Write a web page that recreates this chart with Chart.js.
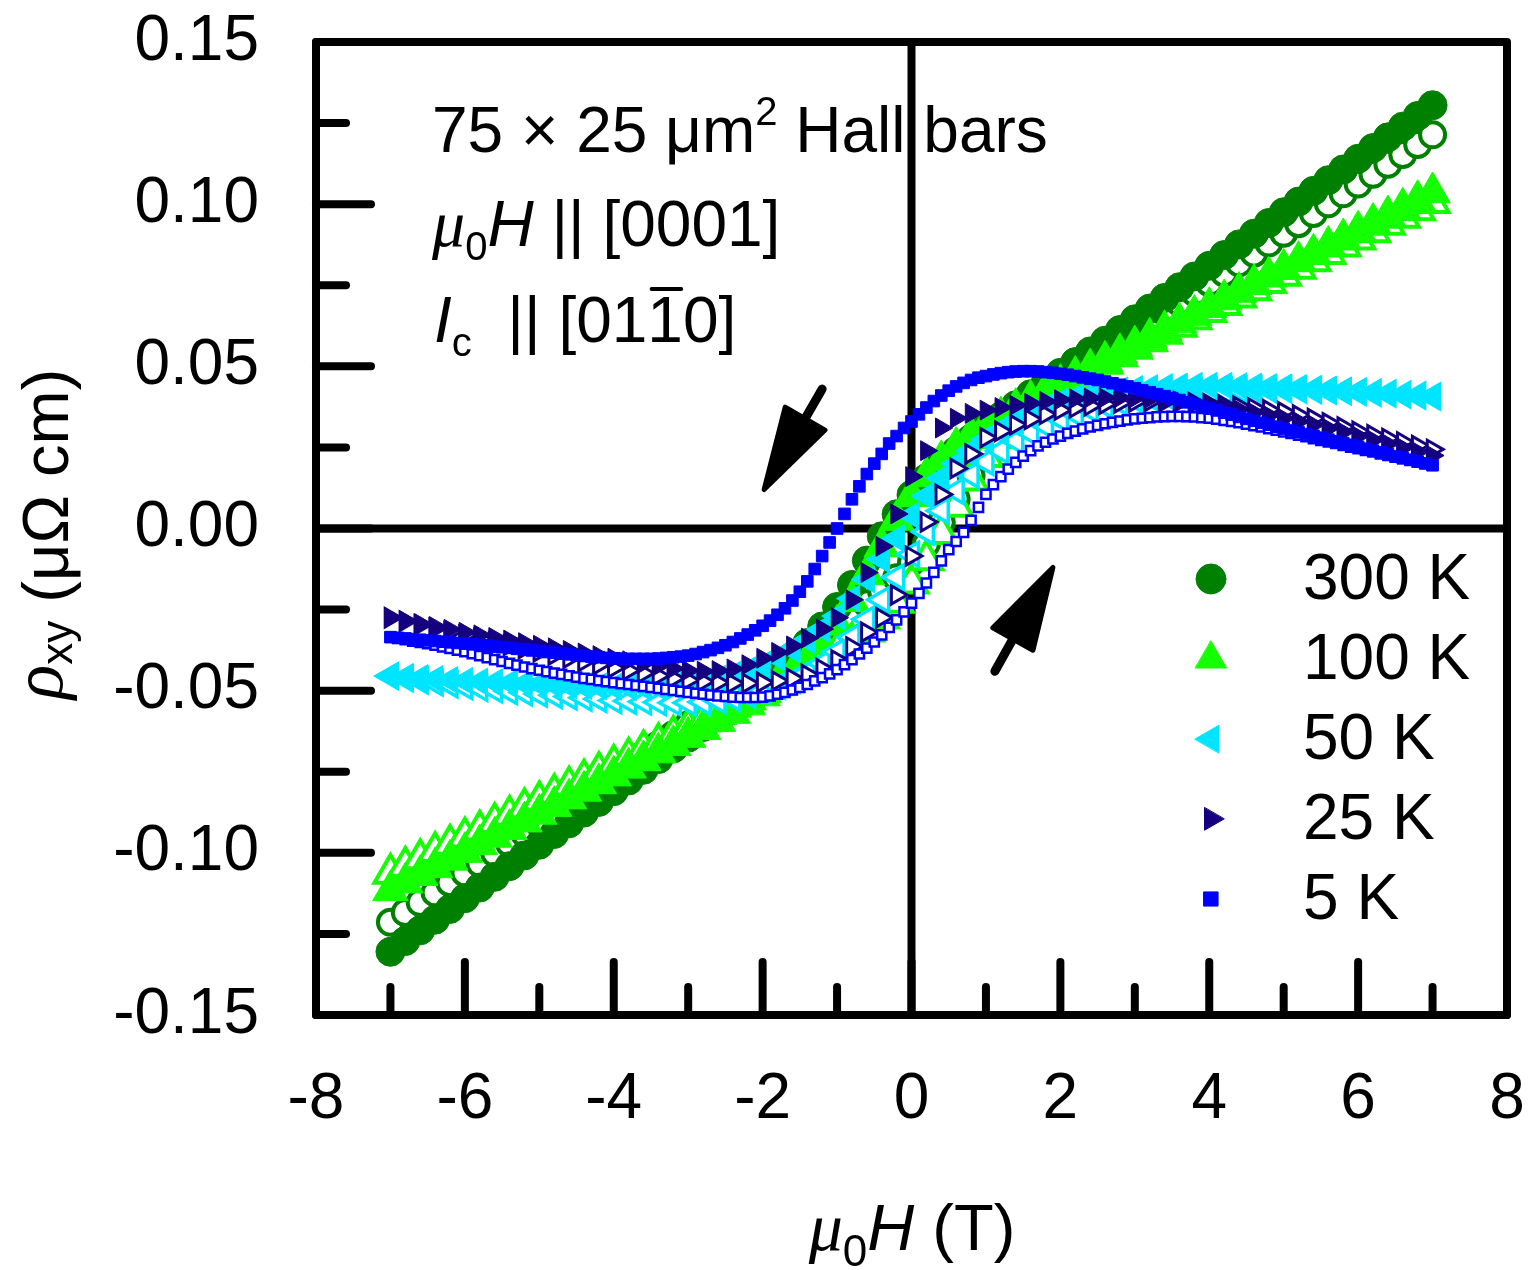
<!DOCTYPE html>
<html>
<head>
<meta charset="utf-8">
<title>Hall resistivity vs field</title>
<script src="https://cdn.jsdelivr.net/npm/chart.js@4.4.1/dist/chart.umd.min.js"></script>
<style>
  html, body { margin: 0; padding: 0; background: #ffffff; }
  canvas { display: block; }
</style>
</head>
<body>
<canvas id="hallChart" width="1539" height="1270"></canvas>
<script>
// ---- field grids (T) ----
const fieldCoarse = [
  -7, -6.8, -6.6, -6.4, -6.2, -6, -5.8, -5.6, -5.4, -5.2,
  -5, -4.8, -4.6, -4.4, -4.2, -4, -3.8, -3.6, -3.4, -3.2,
  -3, -2.8, -2.6, -2.4, -2.2, -2, -1.8, -1.6, -1.4, -1.2,
  -1, -0.8, -0.6, -0.4, -0.2, 0, 0.2, 0.4, 0.6, 0.8,
  1, 1.2, 1.4, 1.6, 1.8, 2, 2.2, 2.4, 2.6, 2.8,
  3, 3.2, 3.4, 3.6, 3.8, 4, 4.2, 4.4, 4.6, 4.8,
  5, 5.2, 5.4, 5.6, 5.8, 6, 6.2, 6.4, 6.6, 6.8, 7
];
const fieldFine = [
  -7, -6.9, -6.8, -6.7, -6.6, -6.5, -6.4, -6.3, -6.2, -6.1,
  -6, -5.9, -5.8, -5.7, -5.6, -5.5, -5.4, -5.3, -5.2, -5.1,
  -5, -4.9, -4.8, -4.7, -4.6, -4.5, -4.4, -4.3, -4.2, -4.1,
  -4, -3.9, -3.8, -3.7, -3.6, -3.5, -3.4, -3.3, -3.2, -3.1,
  -3, -2.9, -2.8, -2.7, -2.6, -2.5, -2.4, -2.3, -2.2, -2.1,
  -2, -1.9, -1.8, -1.7, -1.6, -1.5, -1.4, -1.3, -1.2, -1.1,
  -1, -0.9, -0.8, -0.7, -0.6, -0.5, -0.4, -0.3, -0.2, -0.1,
  0, 0.1, 0.2, 0.3, 0.4, 0.5, 0.6, 0.7, 0.8, 0.9,
  1, 1.1, 1.2, 1.3, 1.4, 1.5, 1.6, 1.7, 1.8, 1.9,
  2, 2.1, 2.2, 2.3, 2.4, 2.5, 2.6, 2.7, 2.8, 2.9,
  3, 3.1, 3.2, 3.3, 3.4, 3.5, 3.6, 3.7, 3.8, 3.9,
  4, 4.1, 4.2, 4.3, 4.4, 4.5, 4.6, 4.7, 4.8, 4.9,
  5, 5.1, 5.2, 5.3, 5.4, 5.5, 5.6, 5.7, 5.8, 5.9,
  6, 6.1, 6.2, 6.3, 6.4, 6.5, 6.6, 6.7, 6.8, 6.9, 7
];

// ---- rho_xy (uOhm cm), down = sweep from +7 T (filled), up = sweep from -7 T (open) ----
const rho300Down = [
  -0.1305, -0.1272, -0.1239, -0.1206, -0.1173, -0.1140, -0.1107, -0.1074, -0.1041, -0.1008,
  -0.0975, -0.0942, -0.0909, -0.0876, -0.0843, -0.0810, -0.0777, -0.0744, -0.0711, -0.0678,
  -0.0645, -0.0612, -0.0578, -0.0544, -0.0510, -0.0475, -0.0438, -0.0398, -0.0353, -0.0302,
  -0.0242, -0.0174, -0.0099, -0.0024, 0.0044, 0.0104, 0.0155, 0.0200, 0.0240, 0.0277,
  0.0312, 0.0346, 0.0380, 0.0414, 0.0447, 0.0480, 0.0513, 0.0546, 0.0579, 0.0612,
  0.0645, 0.0678, 0.0711, 0.0744, 0.0777, 0.0810, 0.0843, 0.0876, 0.0909, 0.0942,
  0.0975, 0.1008, 0.1041, 0.1074, 0.1107, 0.1140, 0.1173, 0.1206, 0.1239, 0.1272, 0.1305
];
const rho300Up = [
  -0.1214, -0.1184, -0.1153, -0.1123, -0.1092, -0.1062, -0.1032, -0.1001, -0.0971, -0.0940,
  -0.0910, -0.0880, -0.0849, -0.0819, -0.0788, -0.0758, -0.0728, -0.0697, -0.0667, -0.0636,
  -0.0606, -0.0576, -0.0545, -0.0515, -0.0484, -0.0454, -0.0424, -0.0393, -0.0362, -0.0330,
  -0.0299, -0.0266, -0.0232, -0.0195, -0.0152, -0.0104, -0.0047, 0.0019, 0.0091, 0.0164,
  0.0229, 0.0286, 0.0335, 0.0377, 0.0415, 0.0449, 0.0481, 0.0513, 0.0544, 0.0576,
  0.0606, 0.0636, 0.0667, 0.0697, 0.0728, 0.0758, 0.0788, 0.0819, 0.0849, 0.0880,
  0.0910, 0.0940, 0.0971, 0.1001, 0.1032, 0.1062, 0.1092, 0.1123, 0.1153, 0.1184, 0.1214
];
const rho100Down = [
  -0.1116, -0.1092, -0.1069, -0.1045, -0.1022, -0.0998, -0.0974, -0.0951, -0.0927, -0.0904,
  -0.0880, -0.0856, -0.0833, -0.0809, -0.0786, -0.0762, -0.0738, -0.0715, -0.0691, -0.0668,
  -0.0643, -0.0619, -0.0594, -0.0569, -0.0543, -0.0515, -0.0484, -0.0449, -0.0408, -0.0358,
  -0.0297, -0.0224, -0.0142, -0.0056, 0.0026, 0.0099, 0.0160, 0.0210, 0.0251, 0.0286,
  0.0317, 0.0345, 0.0371, 0.0396, 0.0421, 0.0445, 0.0470, 0.0493, 0.0517, 0.0540,
  0.0564, 0.0588, 0.0611, 0.0635, 0.0658, 0.0682, 0.0706, 0.0729, 0.0753, 0.0776,
  0.0800, 0.0824, 0.0847, 0.0871, 0.0894, 0.0918, 0.0942, 0.0965, 0.0989, 0.1012, 0.1036
];
const rho100Up = [
  -0.1064, -0.1042, -0.1019, -0.0997, -0.0974, -0.0952, -0.0930, -0.0907, -0.0885, -0.0862,
  -0.0840, -0.0818, -0.0795, -0.0773, -0.0750, -0.0728, -0.0706, -0.0683, -0.0661, -0.0638,
  -0.0616, -0.0594, -0.0571, -0.0549, -0.0526, -0.0503, -0.0480, -0.0457, -0.0433, -0.0407,
  -0.0381, -0.0351, -0.0317, -0.0277, -0.0228, -0.0169, -0.0097, -0.0016, 0.0068, 0.0149,
  0.0221, 0.0280, 0.0329, 0.0369, 0.0403, 0.0433, 0.0459, 0.0485, 0.0509, 0.0532,
  0.0555, 0.0578, 0.0601, 0.0623, 0.0646, 0.0668, 0.0690, 0.0713, 0.0735, 0.0758,
  0.0780, 0.0802, 0.0825, 0.0847, 0.0870, 0.0892, 0.0914, 0.0937, 0.0959, 0.0982, 0.1004
];
const rho50Down = [
  -0.0455, -0.0458, -0.0461, -0.0464, -0.0467, -0.0470, -0.0472, -0.0474, -0.0476, -0.0478,
  -0.0480, -0.0482, -0.0484, -0.0486, -0.0487, -0.0488, -0.0489, -0.0489, -0.0488, -0.0485,
  -0.0480, -0.0473, -0.0463, -0.0451, -0.0437, -0.0420, -0.0398, -0.0373, -0.0344, -0.0310,
  -0.0270, -0.0216, -0.0157, -0.0095, -0.0030, 0.0040, 0.0100, 0.0155, 0.0200, 0.0240,
  0.0275, 0.0305, 0.0332, 0.0355, 0.0375, 0.0392, 0.0404, 0.0413, 0.0420, 0.0426,
  0.0430, 0.0433, 0.0436, 0.0438, 0.0440, 0.0440, 0.0440, 0.0439, 0.0438, 0.0436,
  0.0435, 0.0433, 0.0430, 0.0428, 0.0425, 0.0422, 0.0419, 0.0416, 0.0413, 0.0410, 0.0407
];
const rho50Up = [
  -0.0455, -0.0462, -0.0469, -0.0475, -0.0481, -0.0487, -0.0492, -0.0497, -0.0502, -0.0506,
  -0.0510, -0.0514, -0.0518, -0.0522, -0.0526, -0.0530, -0.0532, -0.0534, -0.0536, -0.0537,
  -0.0537, -0.0535, -0.0530, -0.0523, -0.0513, -0.0500, -0.0485, -0.0467, -0.0444, -0.0416,
  -0.0380, -0.0335, -0.0280, -0.0220, -0.0150, -0.0080, -0.0010, 0.0055, 0.0115, 0.0165,
  0.0205, 0.0240, 0.0270, 0.0295, 0.0318, 0.0338, 0.0354, 0.0368, 0.0380, 0.0390,
  0.0398, 0.0405, 0.0411, 0.0416, 0.0420, 0.0423, 0.0425, 0.0427, 0.0428, 0.0429,
  0.0429, 0.0428, 0.0427, 0.0425, 0.0423, 0.0421, 0.0418, 0.0416, 0.0413, 0.0410, 0.0407
];
const rho25Down = [
  -0.0275, -0.0284, -0.0293, -0.0302, -0.0311, -0.0320, -0.0328, -0.0336, -0.0344, -0.0352,
  -0.0360, -0.0368, -0.0376, -0.0384, -0.0392, -0.0400, -0.0408, -0.0416, -0.0424, -0.0432,
  -0.0438, -0.0440, -0.0438, -0.0433, -0.0420, -0.0400, -0.0382, -0.0362, -0.0338, -0.0310,
  -0.0275, -0.0220, -0.0136, -0.0055, 0.0045, 0.0160, 0.0240, 0.0310, 0.0340, 0.0355,
  0.0365, 0.0373, 0.0380, 0.0386, 0.0392, 0.0397, 0.0400, 0.0402, 0.0403, 0.0403,
  0.0402, 0.0400, 0.0397, 0.0393, 0.0388, 0.0382, 0.0375, 0.0367, 0.0358, 0.0349,
  0.0340, 0.0330, 0.0320, 0.0309, 0.0298, 0.0285, 0.0273, 0.0261, 0.0249, 0.0237, 0.0225
];
const rho25Up = [
  -0.0275, -0.0286, -0.0297, -0.0308, -0.0319, -0.0330, -0.0340, -0.0350, -0.0360, -0.0370,
  -0.0380, -0.0390, -0.0400, -0.0410, -0.0420, -0.0430, -0.0438, -0.0446, -0.0454, -0.0462,
  -0.0468, -0.0472, -0.0475, -0.0477, -0.0477, -0.0475, -0.0470, -0.0462, -0.0450, -0.0432,
  -0.0405, -0.0365, -0.0320, -0.0275, -0.0205, -0.0085, 0.0020, 0.0105, 0.0185, 0.0230,
  0.0280, 0.0300, 0.0320, 0.0337, 0.0352, 0.0365, 0.0372, 0.0378, 0.0383, 0.0387,
  0.0390, 0.0391, 0.0391, 0.0390, 0.0388, 0.0385, 0.0381, 0.0377, 0.0372, 0.0366,
  0.0360, 0.0350, 0.0339, 0.0326, 0.0313, 0.0300, 0.0289, 0.0278, 0.0267, 0.0256, 0.0244
];
const rho5Down = [
  -0.0335, -0.0337, -0.0339, -0.0341, -0.0343, -0.0345, -0.0347, -0.0349, -0.0351, -0.0353,
  -0.0355, -0.0357, -0.0359, -0.0361, -0.0364, -0.0366, -0.0368, -0.0371, -0.0373, -0.0376,
  -0.0378, -0.0381, -0.0383, -0.0386, -0.0388, -0.0391, -0.0393, -0.0395, -0.0397, -0.0399,
  -0.0400, -0.0401, -0.0402, -0.0402, -0.0402, -0.0402, -0.0401, -0.0399, -0.0397, -0.0395,
  -0.0392, -0.0387, -0.0381, -0.0375, -0.0368, -0.0360, -0.0350, -0.0339, -0.0327, -0.0314,
  -0.0300, -0.0284, -0.0266, -0.0246, -0.0222, -0.0195, -0.0163, -0.0125, -0.0085, -0.0043,
  0.0000, 0.0045, 0.0090, 0.0130, 0.0168, 0.0200, 0.0230, 0.0262, 0.0285, 0.0310,
  0.0330, 0.0352, 0.0373, 0.0393, 0.0410, 0.0425, 0.0438, 0.0449, 0.0458, 0.0465,
  0.0470, 0.0475, 0.0479, 0.0482, 0.0484, 0.0485, 0.0485, 0.0484, 0.0482, 0.0480,
  0.0477, 0.0474, 0.0470, 0.0466, 0.0462, 0.0458, 0.0453, 0.0448, 0.0443, 0.0438,
  0.0432, 0.0426, 0.0420, 0.0414, 0.0408, 0.0402, 0.0396, 0.0389, 0.0383, 0.0376,
  0.0370, 0.0364, 0.0357, 0.0351, 0.0344, 0.0338, 0.0332, 0.0326, 0.0320, 0.0314,
  0.0308, 0.0302, 0.0297, 0.0291, 0.0286, 0.0280, 0.0274, 0.0269, 0.0263, 0.0258,
  0.0252, 0.0246, 0.0240, 0.0235, 0.0229, 0.0223, 0.0217, 0.0212, 0.0206, 0.0201, 0.0195
];
const rho5Up = [
  -0.0335, -0.0339, -0.0343, -0.0347, -0.0351, -0.0355, -0.0360, -0.0365, -0.0370, -0.0375,
  -0.0380, -0.0386, -0.0392, -0.0398, -0.0404, -0.0410, -0.0416, -0.0421, -0.0427, -0.0432,
  -0.0437, -0.0441, -0.0446, -0.0450, -0.0454, -0.0458, -0.0462, -0.0465, -0.0469, -0.0472,
  -0.0475, -0.0478, -0.0481, -0.0484, -0.0487, -0.0490, -0.0493, -0.0496, -0.0499, -0.0502,
  -0.0505, -0.0508, -0.0511, -0.0514, -0.0516, -0.0518, -0.0520, -0.0521, -0.0521, -0.0521,
  -0.0520, -0.0516, -0.0511, -0.0505, -0.0498, -0.0490, -0.0481, -0.0470, -0.0460, -0.0448,
  -0.0435, -0.0420, -0.0404, -0.0387, -0.0369, -0.0350, -0.0328, -0.0305, -0.0282, -0.0257,
  -0.0230, -0.0200, -0.0168, -0.0135, -0.0100, -0.0065, -0.0040, -0.0012, 0.0025, 0.0065,
  0.0105, 0.0135, 0.0160, 0.0183, 0.0204, 0.0223, 0.0240, 0.0255, 0.0266, 0.0276,
  0.0285, 0.0293, 0.0300, 0.0307, 0.0313, 0.0318, 0.0323, 0.0327, 0.0331, 0.0335,
  0.0338, 0.0340, 0.0342, 0.0344, 0.0345, 0.0346, 0.0346, 0.0345, 0.0344, 0.0342,
  0.0340, 0.0337, 0.0333, 0.0330, 0.0326, 0.0322, 0.0317, 0.0313, 0.0308, 0.0303,
  0.0298, 0.0293, 0.0288, 0.0283, 0.0277, 0.0272, 0.0267, 0.0262, 0.0256, 0.0251,
  0.0246, 0.0241, 0.0236, 0.0230, 0.0225, 0.0220, 0.0215, 0.0210, 0.0205, 0.0200, 0.0195
];

// ---- axis ticks ----
const xMajorTicks = [-8, -6, -4, -2, 0, 2, 4, 6, 8];
const xMinorTicks = [-7, -5, -3, -1, 1, 3, 5, 7];
const yMajorTicks = [-0.15, -0.10, -0.05, 0, 0.05, 0.10, 0.15];
const yMinorTicks = [-0.125, -0.075, -0.025, 0.025, 0.075, 0.125];

const SANS = "'Liberation Sans', Arial, sans-serif";
const SERIF = "'Liberation Serif', 'Times New Roman', serif";

// marker styles per temperature
const SERIES = [
  { temp: '300 K', field: fieldCoarse, down: rho300Down, up: rho300Up, color: '#008000', shape: 'circle',   rot: 0,   r: 14.5, rOpen: 12.5, bwOpen: 4,   rLegend: 15 },
  { temp: '100 K', field: fieldCoarse, down: rho100Down, up: rho100Up, color: '#14ff00', shape: 'triangle', rot: 0,   r: 20.5, rOpen: 18.5, bwOpen: 4,   rLegend: 18 },
  { temp: '50 K',  field: fieldCoarse, down: rho50Down,  up: rho50Up,  color: '#00e5ff', shape: 'triangle', rot: -90, r: 15.5, rOpen: 14,   bwOpen: 3.5, rLegend: 16 },
  { temp: '25 K',  field: fieldCoarse, down: rho25Down,  up: rho25Up,  color: '#15007f', shape: 'triangle', rot: 90,  r: 11.5, rOpen: 10.5, bwOpen: 3,   rLegend: 13 },
  { temp: '5 K',   field: fieldFine,   down: rho5Down,   up: rho5Up,   color: '#0000ff', shape: 'rect',     rot: 0,   r: 8.2,  rOpen: 6.5,  bwOpen: 2.5, rLegend: 10 }
];

const toPoints = (xs, ys) => xs.map((x, i) => ({ x: x, y: ys[i] }));

const datasets = [];
SERIES.forEach(s => {
    // open symbols first so the filled sweep sits on top
    datasets.push({
        label: s.temp + ' up',
        data: toPoints(s.field, s.up),
        showLine: false,
        pointStyle: s.shape,
        pointRotation: s.rot,
        pointRadius: s.rOpen,
        pointBackgroundColor: '#ffffff',
        pointBorderColor: s.color,
        pointBorderWidth: s.bwOpen
    });
    datasets.push({
        label: s.temp + ' down',
        data: toPoints(s.field, s.down),
        showLine: false,
        pointStyle: s.shape,
        pointRotation: s.rot,
        pointRadius: s.r,
        pointBackgroundColor: s.color,
        pointBorderColor: s.color,
        pointBorderWidth: 1
    });
});
// later datasets drawn on top
datasets.forEach((d, i) => { d.order = datasets.length - i; });

// draw a row of text pieces (for sub/superscripts, italics)
function drawRuns(ctx, x, y, runs) {
    runs.forEach(r => {
        ctx.font = r.font;
        const w = ctx.measureText(r.text).width;
        ctx.fillText(r.text, x, y + (r.dy || 0));
        if (r.overline) {
            ctx.save();
            ctx.lineWidth = 4;
            ctx.beginPath();
            ctx.moveTo(x + w * 0.12, y - 53);
            ctx.lineTo(x + w * 0.95, y - 53);
            ctx.stroke();
            ctx.restore();
        }
        x += w;
    });
    return x;
}
function runsWidth(ctx, runs) {
    let w = 0;
    runs.forEach(r => { ctx.font = r.font; w += ctx.measureText(r.text).width; });
    return w;
}

function drawArrow(ctx, x0, y0, x1, y1) {
    const len = Math.hypot(x1 - x0, y1 - y0);
    const ux = (x1 - x0) / len, uy = (y1 - y0) / len;
    const nx = -uy, ny = ux;
    const headLen = 82, half = 23;
    const bx = x1 - ux * headLen, by = y1 - uy * headLen;
    ctx.lineCap = 'round';
    ctx.lineJoin = 'round';
    ctx.lineWidth = 9;
    ctx.beginPath();
    ctx.moveTo(x0, y0);
    ctx.lineTo(bx + ux * 6, by + uy * 6);
    ctx.stroke();
    ctx.lineWidth = 5;
    ctx.beginPath();
    ctx.moveTo(x1, y1);
    ctx.lineTo(bx + nx * half, by + ny * half);
    ctx.lineTo(bx - nx * half, by - ny * half);
    ctx.closePath();
    ctx.fill();
    ctx.stroke();
}

// keep the plot frame exactly where the layout padding puts it
function fixScaleBox(scale, key, size) {
    scale[key] = size;
    scale.paddingLeft = 0;
    scale.paddingRight = 0;
    scale.paddingTop = 0;
    scale.paddingBottom = 0;
}

const figurePlugin = {
    id: 'figureDecor',
    beforeDatasetsDraw(chart) {
        const { ctx, chartArea: a, scales: { x, y } } = chart;
        ctx.save();
        ctx.strokeStyle = '#000';
        ctx.lineWidth = 8;
        ctx.lineCap = 'round';
        const seg = (x0, y0, x1, y1) => { ctx.beginPath(); ctx.moveTo(x0, y0); ctx.lineTo(x1, y1); ctx.stroke(); };

        // inward ticks, bottom and left only
        xMajorTicks.forEach(v => { const p = x.getPixelForValue(v); seg(p, a.bottom, p, a.bottom - 53); });
        xMinorTicks.forEach(v => { const p = x.getPixelForValue(v); seg(p, a.bottom, p, a.bottom - 28); });
        yMajorTicks.forEach(v => { const p = y.getPixelForValue(v); seg(a.left, p, a.left + 55, p); });
        yMinorTicks.forEach(v => { const p = y.getPixelForValue(v); seg(a.left, p, a.left + 30, p); });

        // zero lines
        ctx.lineCap = 'butt';
        const x0 = x.getPixelForValue(0), y0 = y.getPixelForValue(0);
        seg(x0, a.top, x0, a.bottom);
        seg(a.left, y0, a.right, y0);

        // frame
        ctx.lineJoin = 'round';
        ctx.strokeRect(a.left, a.top, a.right - a.left, a.bottom - a.top);
        ctx.restore();
    },
    afterDatasetsDraw(chart) {
        const { ctx, scales: { x, y } } = chart;
        ctx.save();
        ctx.fillStyle = '#000';
        ctx.strokeStyle = '#000';

        // sweep direction arrows
        drawArrow(ctx, x.getPixelForValue(-1.2), y.getPixelForValue(0.043),
                       x.getPixelForValue(-1.98), y.getPixelForValue(0.012));
        drawArrow(ctx, x.getPixelForValue(1.12), y.getPixelForValue(-0.044),
                       x.getPixelForValue(1.9), y.getPixelForValue(-0.012));

        // sample annotation
        const big = '64px ' + SANS, small = '40px ' + SANS;
        ctx.textAlign = 'left';
        ctx.textBaseline = 'alphabetic';
        drawRuns(ctx, 432, 152, [
            { text: '75 \u00d7 25 \u03bcm', font: big },
            { text: '2', font: small, dy: -27 },
            { text: ' Hall bars', font: big }
        ]);
        drawRuns(ctx, 432, 246, [
            { text: '\u03bc', font: 'italic 66px ' + SERIF },
            { text: '0', font: small, dy: 14 },
            { text: 'H', font: 'italic 64px ' + SANS },
            { text: ' || [0001]', font: big }
        ]);
        drawRuns(ctx, 434, 342, [
            { text: 'I', font: 'italic 64px ' + SANS },
            { text: 'c', font: small, dy: 14 },
            { text: '  || [01', font: big },
            { text: '1', font: big, overline: true },
            { text: '0]', font: big }
        ]);

        // legend
        SERIES.forEach((s, i) => {
            const cy = 579 + 80 * i;
            ctx.fillStyle = s.color;
            ctx.strokeStyle = s.color;
            ctx.lineWidth = 1;
            Chart.helpers.drawPoint(ctx, { pointStyle: s.shape, rotation: s.rot, radius: s.rLegend, borderWidth: 1 }, 1211, cy);
            ctx.fillStyle = '#000';
            ctx.font = big;
            ctx.textBaseline = 'middle';
            ctx.fillText(s.temp, 1303, cy + 2);
        });
        ctx.restore();
    },
    afterDraw(chart) {
        const { ctx } = chart;
        ctx.save();
        ctx.fillStyle = '#000';
        ctx.textBaseline = 'alphabetic';
        ctx.textAlign = 'left';

        // x title: mu0 H (T)
        const xRuns = [
            { text: '\u03bc', font: 'italic 68px ' + SERIF },
            { text: '0', font: '44px ' + SANS, dy: 16 },
            { text: 'H', font: 'italic 65px ' + SANS },
            { text: ' (T)', font: '65px ' + SANS }
        ];
        drawRuns(ctx, 912 - runsWidth(ctx, xRuns) / 2, 1250, xRuns);

        // y title: rho_xy (uOhm cm), rotated
        const yRuns = [
            { text: '\u03c1', font: 'italic 72px ' + SERIF, dy: -6 },
            { text: 'xy', font: '44px ' + SANS, dy: 4 },
            { text: ' (\u03bc\u03a9 cm)', font: '65px ' + SANS }
        ];
        ctx.translate(68, 534);
        ctx.rotate(-Math.PI / 2);
        drawRuns(ctx, -runsWidth(ctx, yRuns) / 2, 0, yRuns);
        ctx.restore();
    }
};

Chart.defaults.font.family = SANS;
Chart.defaults.color = '#000';

new Chart(document.getElementById('hallChart').getContext('2d'), {
    type: 'scatter',
    data: { datasets: datasets },
    options: {
        responsive: false,
        animation: false,
        events: [],
        layout: { padding: { left: 0, top: 42, right: 32, bottom: 0 } },
        plugins: { legend: { display: false }, tooltip: { enabled: false } },
        scales: {
            x: {
                type: 'linear',
                min: -8, max: 8,
                afterFit: s => fixScaleBox(s, 'height', 255),
                grid: { display: false, drawTicks: false },
                border: { display: false },
                ticks: { stepSize: 2, padding: 47, maxRotation: 0, autoSkip: false, color: '#000', font: { size: 64 }, callback: v => String(v) }
            },
            y: {
                type: 'linear',
                min: -0.15, max: 0.15,
                afterFit: s => fixScaleBox(s, 'width', 316),
                grid: { display: false, drawTicks: false },
                border: { display: false },
                ticks: { stepSize: 0.05, padding: 57, autoSkip: false, color: '#000', font: { size: 64 }, callback: v => v.toFixed(2) }
            }
        }
    },
    plugins: [figurePlugin]
});
</script>
</body>
</html>
